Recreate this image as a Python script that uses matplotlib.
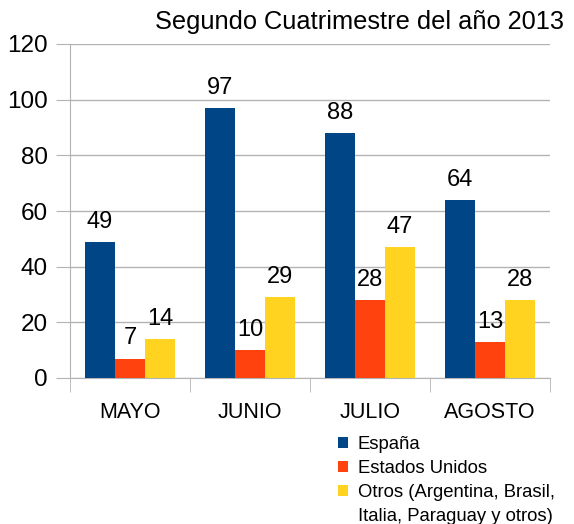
import numpy as np
import matplotlib
matplotlib.use("Agg")
import matplotlib.pyplot as plt
from matplotlib.patches import Patch

plt.rcParams["font.family"] = ["Liberation Sans", "DejaVu Sans"]

meses = ["MAYO", "JUNIO", "JULIO", "AGOSTO"]
espana = [49, 97, 88, 64]
eeuu = [7, 10, 28, 13]
otros = [14, 29, 47, 28]
series = ["España", "Estados Unidos", "Otros (Argentina, Brasil,"]
serie_extra = "Italia, Paraguay y otros)"
colores = ["#004586", "#ff420e", "#ffd320"]
GRID = "#b3b3b3"

fig = plt.figure(figsize=(5.74, 5.24), dpi=100)
ax = fig.add_axes([70 / 574, 146 / 524, 480 / 574, 334 / 524])

x = np.arange(len(meses))
w = 0.25
for i, (vals, lab, col) in enumerate(zip([espana, eeuu, otros], series, colores)):
    b = ax.bar(x + (i - 1) * w, vals, w, color=col, label=lab, zorder=3)
    ax.bar_label(b, padding=6.5, fontsize=17)

ax.set_xlim(-0.5, len(meses) - 0.5)
ax.set_ylim(0, 120)
ax.set_yticks(range(0, 121, 20))
ax.tick_params(axis="y", labelsize=17.5, length=10, color=GRID, pad=6)
ax.yaxis.grid(True, color=GRID, lw=1, zorder=0)

ax.set_xticks(x)
ax.set_xticklabels(meses, fontsize=15.5)
ax.tick_params(axis="x", length=0, pad=17)
ax.set_xticks(np.arange(-0.5, len(meses)), minor=True)
ax.tick_params(axis="x", which="minor", length=10, color=GRID)

for s in ["top", "right"]:
    ax.spines[s].set_visible(False)
for s in ["left", "bottom"]:
    ax.spines[s].set_color(GRID)

fig.text(564 / 574, 1 - 29 / 524, "Segundo Cuatrimestre del año 2013",
         ha="right", va="baseline", fontsize=18.3)

handles, labels = ax.get_legend_handles_labels()
handles.append(Patch(color="none"))
labels.append(serie_extra)
fig.legend(handles, labels, loc="upper left", bbox_to_anchor=(338 / 574, 88 / 524),
           frameon=False, fontsize=13.3, handlelength=0.52, handleheight=0.52,
           handletextpad=0.54, labelspacing=0.38, borderaxespad=0, borderpad=0)

fig.savefig("out.png", dpi=100)
